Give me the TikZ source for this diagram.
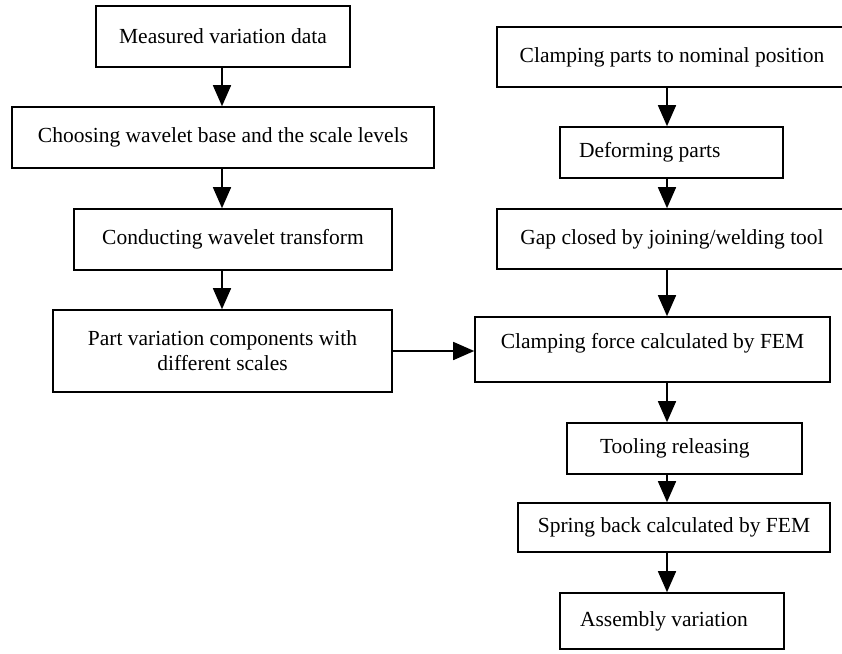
\documentclass[tikz,border=0pt]{standalone}
\usepackage{fontspec}
\setmainfont{Liberation Serif}
\usepackage{tikz}
\usetikzlibrary{arrows.meta,positioning}
\tikzset{
  ar/.style={-{Triangle[length=21pt,width=18pt]},line width=1.6pt},
  box/.style={draw,line width=1.6pt,align=center,inner sep=2pt,
    font=\fontsize{21.5}{25}\selectfont},
  padleft/.style={align=flush left,inner xsep=#1}
}

\begin{document}
\begin{tikzpicture}[x=1pt,y=-1pt]
\useasboundingbox (0,0) rectangle (842,653);
\clip (0,0) rectangle (842,653);
% left column
\node[box,minimum width=254,minimum height=61] (meas) at (223,36.5) {Measured variation data};
\node[box,minimum width=422,minimum height=61] (choose) at (223,137.5) {Choosing wavelet base and the scale levels};
\node[box,minimum width=318,minimum height=61] (conduct) at (233,239.5) {Conducting wavelet transform};
\node[box,minimum width=339,minimum height=82] (partvar) at (222.5,351) {Part variation components with\\different scales};
% right column
\node[box,minimum width=350,minimum height=60] (clampnom) at (672,57) {Clamping parts to nominal position};
\node[box,padleft=19,text width=185,minimum height=51] (deform) at (671.5,152.5) {Deforming parts};
\node[box,minimum width=350,minimum height=60] (gap) at (672,239) {Gap closed by joining/welding tool};
\node[box,minimum width=355,minimum height=65,text depth=17pt] (clampforce) at (652.5,349.5) {Clamping force calculated by FEM};
\node[box,padleft=33,text width=169,minimum height=51] (tooling) at (684.5,448.5) {Tooling releasing};
\node[box,minimum width=312,minimum height=49] (spring) at (674,527.5) {Spring back calculated by FEM};
\node[box,padleft=20,text width=184,minimum height=56] (assembly) at (672,621) {Assembly variation};
\coordinate (lx) at (222,0);
\coordinate (rx) at (667,0);
% arrows
\draw[ar] (lx |- meas.south) -- (lx |- choose.north);
\draw[ar] (lx |- choose.south) -- (lx |- conduct.north);
\draw[ar] (lx |- conduct.south) -- (lx |- partvar.north);
\draw[ar] (partvar.east) -- (partvar.east -| clampforce.west);
\draw[ar] (rx |- clampnom.south) -- (rx |- deform.north);
\draw[ar] (rx |- deform.south) -- (rx |- gap.north);
\draw[ar] (rx |- gap.south) -- (rx |- clampforce.north);
\draw[ar] (rx |- clampforce.south) -- (rx |- tooling.north);
\draw[ar] (rx |- tooling.south) -- (rx |- spring.north);
\draw[ar] (rx |- spring.south) -- (rx |- assembly.north);
\end{tikzpicture}
\end{document}
